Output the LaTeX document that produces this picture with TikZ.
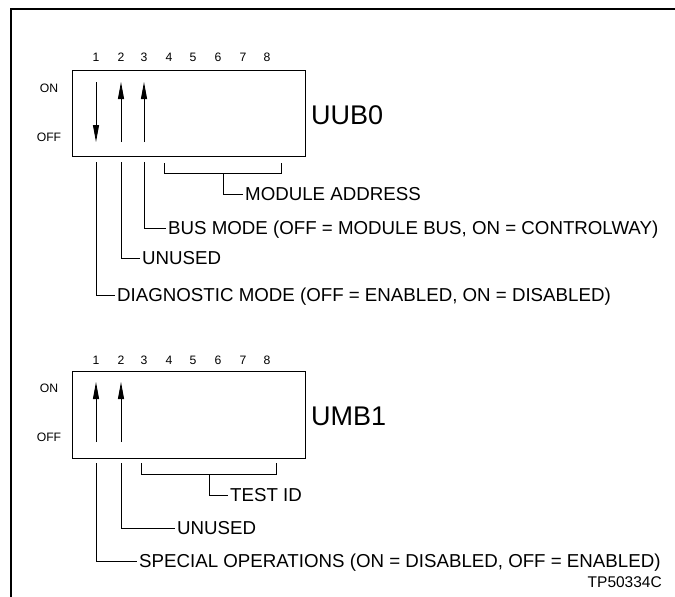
\documentclass[tikz,border=0pt]{standalone}
\usepackage{fontspec}
\setmainfont{Liberation Sans}
\usetikzlibrary{arrows.meta}
\begin{document}
\begin{tikzpicture}[x=1pt,y=-1pt,
  frame/.style={line width=1.4pt},
  boxline/.style={line width=0.9pt},
  lead/.style={line width=0.9pt},
  sw/.style={line width=0.9pt,-{Triangle[length=17pt,width=6pt]}},
  num/.style={font=\fontsize{12.2}{14}\selectfont,inner sep=0pt,text height=8.7pt,text depth=0pt},
  onoff/.style={font=\fontsize{12.2}{14}\selectfont,inner sep=0pt,text height=8.7pt,text depth=0pt},
  lbl/.style={font=\fontsize{18.7}{21}\selectfont,inner xsep=2pt,inner ysep=0pt,anchor=west,text height=13.4pt,text depth=0pt},
  big/.style={font=\fontsize{27}{30}\selectfont,inner sep=0pt,anchor=west,text height=19.4pt,text depth=0pt},
  code/.style={font=\fontsize{15.5}{17}\selectfont,inner sep=0pt,anchor=east,text height=11.1pt,text depth=0pt}]
\useasboundingbox (0,0) rectangle (675,597);
% outer frame (top and left edges)
\coordinate (fa) at (11,597);
\coordinate (fb) at (11,9);
\coordinate (fc) at (675,9);
\draw[frame] (fa) -- (fb) -- (fc);

% ================= UUB0 =================
\node[draw,boxline,minimum width=233pt,minimum height=86pt,inner sep=0pt,anchor=north west] (boxA) at (72,70) {};
\foreach \n/\x in {1/96,2/121,3/144,4/169,5/193,6/218,7/243,8/267}
  \node[num] (nA\n) at (\x,57) {\n};
\node[onoff] (onA) at (49,88) {ON};
\node[onoff] (offA) at (49,137) {OFF};
\node[big] (uub) at (311,115) {UUB0};
% switches
\coordinate (a1t) at (96,82);  \coordinate (a1b) at (96,142);
\coordinate (a2t) at (121,82); \coordinate (a2b) at (121,142);
\coordinate (a3t) at (144,82); \coordinate (a3b) at (144,142);
\draw[sw] (a1t) -- (a1b);
\draw[sw] (a2b) -- (a2t);
\draw[sw] (a3b) -- (a3t);
% labels
\node[lbl] (diag) at (115,295) {DIAGNOSTIC MODE (OFF = ENABLED, ON = DISABLED)};
\node[lbl] (unA) at (140,258) {UNUSED};
\node[lbl] (bus) at (166,228) {BUS MODE (OFF = MODULE BUS, ON = CONTROLWAY)};
\node[lbl] (mod) at (243,194) {MODULE ADDRESS};
% leaders
\coordinate (l1) at (96,162);
\coordinate (l2) at (121,162);
\coordinate (l3) at (144,162);
\draw[lead] (l1) |- (diag.west);
\draw[lead] (l2) |- (unA.west);
\draw[lead] (l3) |- (bus.west);
\coordinate (brA1) at (164,163); \coordinate (brA2) at (281,163);
\coordinate (brAm) at (223,173);
\draw[lead] (brA1) -- (164,173) -- (281,173) -- (brA2);
\draw[lead] (brAm) |- (mod.west);

% ================= UMB1 =================
\node[draw,boxline,minimum width=233pt,minimum height=87pt,inner sep=0pt,anchor=north west] (boxB) at (72,371) {};
\foreach \n/\x in {1/96,2/121,3/144,4/169,5/193,6/218,7/243,8/267}
  \node[num] (nB\n) at (\x,360) {\n};
\node[onoff] (onB) at (49,388) {ON};
\node[onoff] (offB) at (49,437) {OFF};
\node[big] (umb) at (311,416) {UMB1};
\coordinate (b1t) at (96,382);  \coordinate (b1b) at (96,442);
\coordinate (b2t) at (121,382); \coordinate (b2b) at (121,442);
\draw[sw] (b1b) -- (b1t);
\draw[sw] (b2b) -- (b2t);
\node[lbl] (spec) at (137,561) {SPECIAL OPERATIONS (ON = DISABLED, OFF = ENABLED)};
\node[lbl] (unB) at (175,528) {UNUSED};
\node[lbl] (test) at (228,495) {TEST ID};
\coordinate (m1) at (96,463);
\coordinate (m2) at (121,463);
\draw[lead] (m1) |- (spec.west);
\draw[lead] (m2) |- (unB.west);
\coordinate (brB1) at (141,463); \coordinate (brB2) at (276,463);
\coordinate (brBm) at (209,474);
\draw[lead] (brB1) -- (141,474) -- (276,474) -- (brB2);
\draw[lead] (brBm) |- (test.west);

\node[code] (tp) at (662,582) {TP50334C};
\end{tikzpicture}
\end{document}
